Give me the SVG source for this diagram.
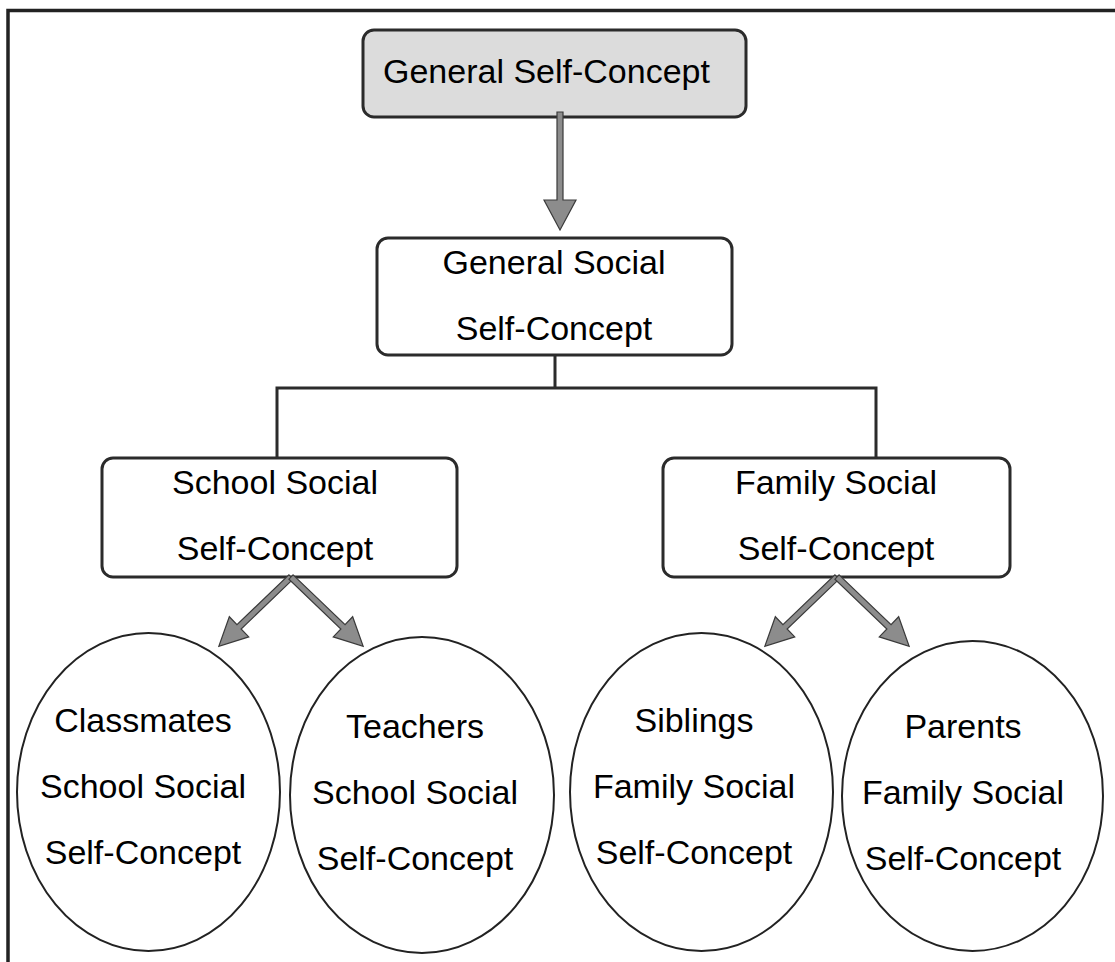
<svg xmlns="http://www.w3.org/2000/svg" xmlns:xlink="http://www.w3.org/1999/xlink" width="1115" height="962" viewBox="0 0 1115 962">
<style>
text{font-family:"Liberation Sans",Arial,Helvetica,sans-serif;font-size:34px;fill:#000;text-anchor:middle}
.box{fill:#fff;stroke:#2b2b2b;stroke-width:3}
.top{fill:#dcdcdc}
.ell{fill:#fff;stroke:#222;stroke-width:2}
.line{fill:none;stroke:#2b2b2b;stroke-width:3}
.arrow{fill:#8c8c8c;stroke:#3a3a3a;stroke-width:1.2;stroke-linejoin:miter}
.frame{fill:none;stroke:#222;stroke-width:3.5}
</style>
<defs>
<path id="arr" d="M0,-3 L72,-3 L72,-14 L100,0 L72,14 L72,3 L0,3 Z"/>
</defs>
<rect width="1115" height="962" fill="#fff"/>
<path class="frame" d="M8,962 L8,10.5 L1115,10.5"/>

<g id="general-self-concept">
<rect class="box top" x="363" y="30" width="383" height="87" rx="11"/>
<text x="383" y="83" style="text-anchor:start">General Self-Concept</text>
</g>

<g id="general-social">
<rect class="box" x="377" y="238" width="355" height="117" rx="11"/>
<text x="554" y="274">General Social</text>
<text x="554" y="340">Self-Concept</text>
</g>

<g id="school-social">
<rect class="box" x="102" y="458" width="355" height="119" rx="11"/>
<text x="275" y="494">School Social</text>
<text x="275" y="560">Self-Concept</text>
</g>

<g id="family-social">
<rect class="box" x="663" y="458" width="347" height="119" rx="11"/>
<text x="836" y="494">Family Social</text>
<text x="836" y="560">Self-Concept</text>
</g>

<g id="classmates">
<ellipse class="ell" cx="148.5" cy="792" rx="131.5" ry="159"/>
<text x="143" y="732">Classmates</text>
<text x="143" y="798">School Social</text>
<text x="143" y="864">Self-Concept</text>
</g>

<g id="teachers">
<ellipse class="ell" cx="422" cy="795" rx="132" ry="158"/>
<text x="415" y="738">Teachers</text>
<text x="415" y="804">School Social</text>
<text x="415" y="870">Self-Concept</text>
</g>

<g id="siblings">
<ellipse class="ell" cx="701.5" cy="792" rx="131.5" ry="159"/>
<text x="694" y="732">Siblings</text>
<text x="694" y="798">Family Social</text>
<text x="694" y="864">Self-Concept</text>
</g>

<g id="parents">
<ellipse class="ell" cx="972.5" cy="796" rx="130.5" ry="155"/>
<text x="963" y="738">Parents</text>
<text x="963" y="804">Family Social</text>
<text x="963" y="870">Self-Concept</text>
</g>

<g id="connectors">
<path class="line" d="M555,355 L555,388 M277,388 L876,388 M277,386.5 L277,458 M876,386.5 L876,458"/>
<path class="arrow" d="M557,112 L563,112 L563,200 L576,200 L560,230 L544,200 L557,200 Z"/>
<use xlink:href="#arr" class="arrow" transform="translate(291,577) rotate(136.2)"/>
<use xlink:href="#arr" class="arrow" transform="translate(291,577) rotate(43.8)"/>
<use xlink:href="#arr" class="arrow" transform="translate(837,577) rotate(136.2)"/>
<use xlink:href="#arr" class="arrow" transform="translate(837,577) rotate(43.8)"/>
</g>
</svg>
